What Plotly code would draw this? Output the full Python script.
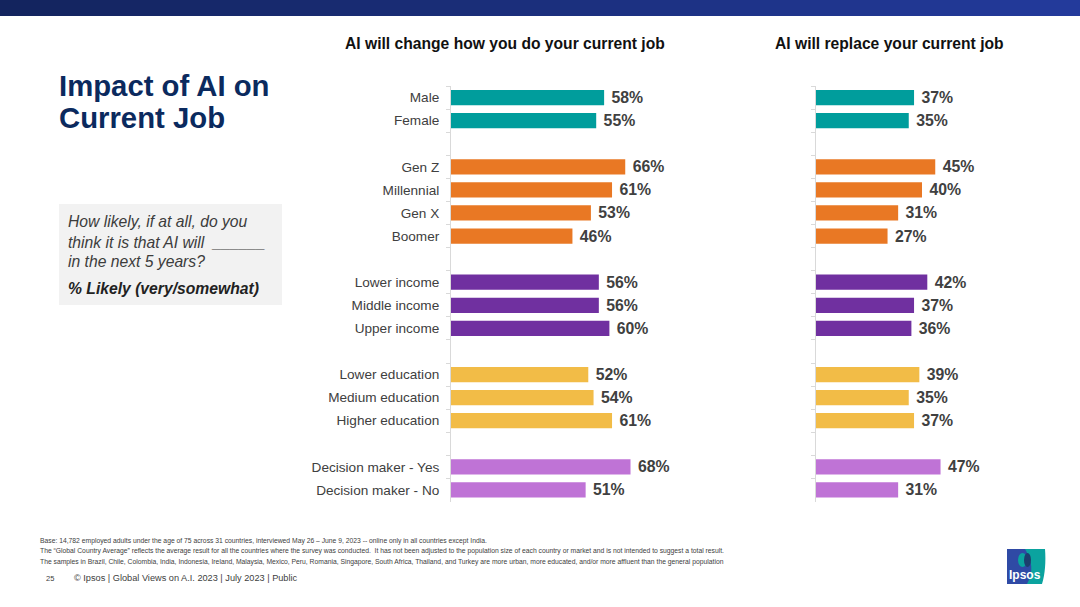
import plotly.graph_objects as go

W, H = 1080, 607
FONT = "Liberation Sans"

categories = ["Male", "Female", " ", "Gen Z", "Millennial", "Gen X", "Boomer", "  ",
              "Lower income", "Middle income", "Upper income", "   ",
              "Lower education", "Medium education", "Higher education", "    ",
              "Decision maker - Yes", "Decision maker - No"]
change_job = [58, 55, None, 66, 61, 53, 46, None, 56, 56, 60, None, 52, 54, 61, None, 68, 51]
replace_job = [37, 35, None, 45, 40, 31, 27, None, 42, 37, 36, None, 39, 35, 37, None, 47, 31]
TEAL, ORANGE, PURPLE, YELLOW, LILAC = "#009d9c", "#e97824", "#7030a0", "#f2bc47", "#bf73d6"
bar_colors = [TEAL, TEAL, TEAL, ORANGE, ORANGE, ORANGE, ORANGE, ORANGE, PURPLE, PURPLE, PURPLE,
              PURPLE, YELLOW, YELLOW, YELLOW, YELLOW, LILAC, LILAC]
band_left, band_right = (19, 36, 94), (35, 58, 155)


def px(x):
    return x / W


def py(y):
    return 1 - y / H


def labels(vals):
    return ["" if v is None else f" {v}%" for v in vals]


fig = go.Figure()
fig.add_trace(go.Bar(y=categories, x=change_job, orientation="h", marker=dict(color=bar_colors, line_width=0),
                     text=labels(change_job), textposition="outside", cliponaxis=False, constraintext="none",
                     textfont=dict(family=FONT, size=15.8, color="#404040", weight="bold"),
                     xaxis="x", yaxis="y", hoverinfo="skip"))
fig.add_trace(go.Bar(y=categories, x=replace_job, orientation="h", marker=dict(color=bar_colors, line_width=0),
                     text=labels(replace_job), textposition="outside", cliponaxis=False, constraintext="none",
                     textfont=dict(family=FONT, size=15.8, color="#404040", weight="bold"),
                     xaxis="x2", yaxis="y2", hoverinfo="skip"))

SCALE_L = 2.64
SCALE_R = 2.65
xcommon = dict(visible=False, fixedrange=True)
ycommon = dict(type="category", categoryorder="array", categoryarray=categories, autorange=False,
               range=[len(categories) - 0.5, -0.5], showgrid=False, zeroline=False, showline=True,
               linecolor="#d9d9d9", linewidth=1, ticks="outside", tickson="boundaries", ticklen=4,
               tickcolor="#d9d9d9", fixedrange=True)
fig.update_layout(
    width=W, height=H, margin=dict(l=0, r=0, t=0, b=0), paper_bgcolor="white", plot_bgcolor="white",
    showlegend=False, bargap=0.34, font=dict(family=FONT),
    xaxis=dict(domain=[px(451), px(451 + SCALE_L * 100)], anchor="y", range=[0, 100], **xcommon),
    xaxis2=dict(domain=[px(816), px(816 + SCALE_R * 90)], anchor="y2", range=[0, 90], **xcommon),
    yaxis=dict(domain=[py(501.5), py(86)], anchor="x", showticklabels=True, ticklabelstandoff=8,
               tickfont=dict(family=FONT, size=13.6, color="#404040"), **ycommon),
    yaxis2=dict(domain=[py(501.5), py(86)], anchor="x2", showticklabels=False, **ycommon),
)

shapes = []
N = 54
for i in range(N):
    t = i / (N - 1)
    c = tuple(round(a + (b - a) * t) for a, b in zip(band_left, band_right))
    shapes.append(dict(type="rect", xref="paper", yref="paper", x0=px(i * W / N), x1=px((i + 1) * W / N) + 0.001,
                       y0=py(16), y1=py(0), line_width=0, fillcolor=f"rgb{c}", layer="below"))
shapes.append(dict(type="rect", xref="paper", yref="paper", x0=px(59), x1=px(282), y0=py(305), y1=py(204),
                   line_width=0, fillcolor="#f2f2f2", layer="below"))
# Logo
shapes.append(dict(type="rect", xref="paper", yref="paper", x0=px(1007), x1=px(1032), y0=py(584), y1=py(549),
                   line_width=0, fillcolor="#2f4aa5", layer="below"))
shapes.append(dict(type="path", xref="paper", yref="paper", layer="below", line_width=0, fillcolor="#0ba39f",
                   path=f"M {px(1025)} {py(549)} L {px(1045)} {py(549)} C {px(1046)} {py(562)} {px(1045)} {py(574)} "
                        f"{px(1042)} {py(584)} L {px(1027)} {py(584)} C {px(1034)} {py(572)} {px(1032)} {py(560)} "
                        f"{px(1025)} {py(549)} Z"))
shapes.append(dict(type="circle", xref="paper", yref="paper", layer="below", line_width=0, fillcolor="#0ba39f",
                   x0=px(1018), x1=px(1027), y0=py(567), y1=py(553)))
shapes.append(dict(type="circle", xref="paper", yref="paper", layer="below", line_width=0, fillcolor="#1c3f6e",
                   x0=px(1024), x1=px(1031), y0=py(567), y1=py(553)))
fig.update_layout(shapes=shapes)


def note(x, y, text, size, color="#404040", anchor="left", bold=False, italic=False):
    fig.add_annotation(xref="paper", yref="paper", x=px(x), y=py(y), text=text, showarrow=False, xanchor=anchor,
                       yanchor="middle", align="left", borderpad=0,
                       font=dict(family=FONT, size=size, color=color, weight="bold" if bold else "normal",
                                 style="italic" if italic else "normal"))


note(505, 43.5, "AI will change how you do your current job", 15.65, "#111111", "center", True)
note(889.5, 43.5, "AI will replace your current job", 15.65, "#111111", "center", True)
note(58, 85.5, "Impact of AI on", 29.3, "#0b2a5e", bold=True)
note(58, 117, "Current Job", 29.3, "#0b2a5e", bold=True)
note(67, 222, "How likely, if at all, do you", 15.7, "#3c3c3c", italic=True)
note(67, 242, "think it is that AI will  ______", 15.7, "#3c3c3c", italic=True)
note(67, 262, "in the next 5 years?", 15.7, "#3c3c3c", italic=True)
note(67, 288, "% Likely (very/somewhat)", 15.7, "#222222", bold=True, italic=True)
note(39, 540.5, "Base: 14,782 employed adults under the age of 75 across 31 countries, interviewed May 26 – June 9, 2023 -- online only in all countries except India.", 6.78)
note(39, 551, "The “Global Country Average” reflects the average result for all the countries where the survey was conducted.  It has not been adjusted to the population size of each country or market and is not intended to suggest a total result.", 6.78)
note(39, 562, "The samples in Brazil, Chile, Colombia, India, Indonesia, Ireland, Malaysia, Mexico, Peru, Romania, Singapore, South Africa, Thailand, and Turkey are more urban, more educated, and/or more affluent than the general population", 6.78)
note(45, 578, "25", 7.5)
note(72.5, 578, "© Ipsos | Global Views on A.I. 2023 | July 2023 | Public", 9.2)
note(1025, 575, "Ipsos", 12, "white", "center", True)

fig.write_html("out.html", config={"displayModeBar": False},
               post_script="document.body.style.margin='0';document.body.style.overflow='hidden';")
